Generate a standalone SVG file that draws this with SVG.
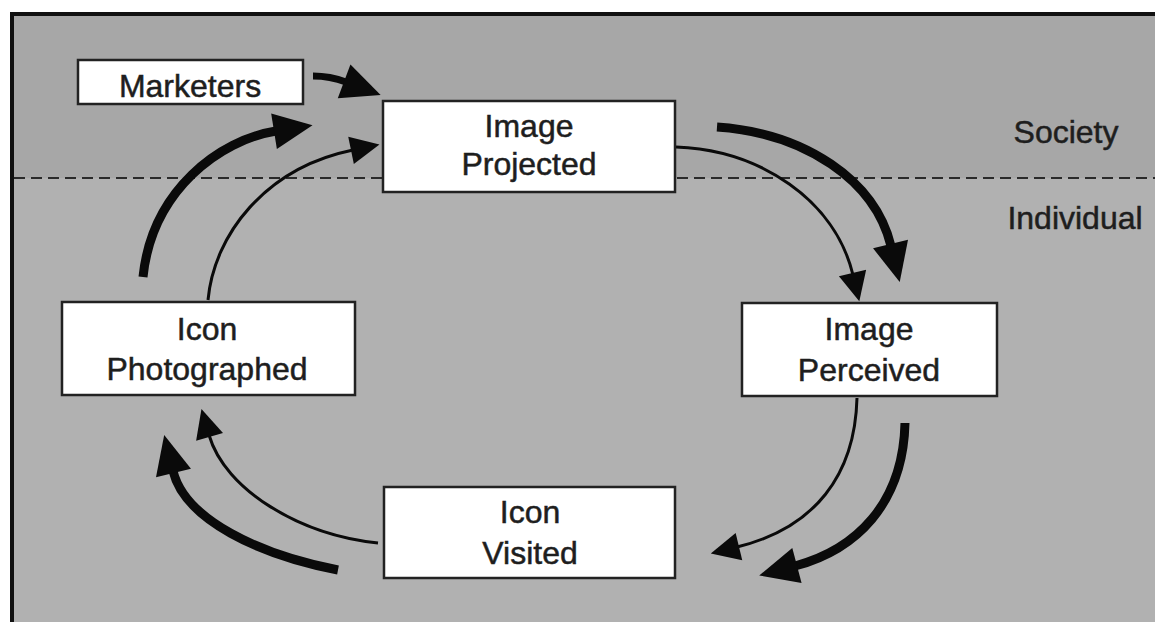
<svg xmlns="http://www.w3.org/2000/svg" width="1155" height="626" viewBox="0 0 1155 626">
  <style>
    .box { fill: #ffffff; stroke: #222222; stroke-width: 2.5; }
    .lbl { font-family: "Liberation Sans", Arial, sans-serif; font-size: 32px; fill: #1e1e1e; stroke: #1e1e1e; stroke-width: 0.5; text-anchor: middle; }
    .thick { fill: none; stroke: #0a0a0a; stroke-width: 9; }
    .mid { fill: none; stroke: #0a0a0a; stroke-width: 7; }
    .thin { fill: none; stroke: #0a0a0a; stroke-width: 3; }
  </style>
  <defs>
    <marker id="headBig" markerUnits="userSpaceOnUse" viewBox="0 -20 42 40" markerWidth="42" markerHeight="40" refX="2" refY="0" orient="auto" overflow="visible">
      <path d="M0,-18 L39,0 L0,18 z" fill="#0a0a0a"/>
    </marker>
    <marker id="headSmall" markerUnits="userSpaceOnUse" viewBox="0 -16 32 32" markerWidth="32" markerHeight="32" refX="2" refY="0" orient="auto" overflow="visible">
      <path d="M0,-14 L29,0 L0,14 z" fill="#0a0a0a"/>
    </marker>
  </defs>

  <g id="background">
    <rect x="0" y="0" width="1155" height="626" fill="#ffffff"/>
    <rect x="12" y="14" width="1150" height="164" fill="#a7a7a7"/>
    <rect x="12" y="178" width="1150" height="444" fill="#b1b1b1"/>
    <line x1="12" y1="14" x2="1155" y2="14" stroke="#111111" stroke-width="4"/>
    <line x1="12" y1="12" x2="12" y2="622" stroke="#111111" stroke-width="4"/>
    <line x1="14" y1="178" x2="1155" y2="178" stroke="#2a2a2a" stroke-width="2" stroke-dasharray="11,6"/>
    <text class="lbl" x="1066" y="143">Society</text>
    <text class="lbl" x="1075" y="229">Individual</text>
  </g>

  <g id="connectors">
    <path class="mid" d="M313,76 Q330,76 346,82" marker-end="url(#headBig)"/>
    <path class="thick" d="M143,277 C152,190 220,140 276,131" marker-end="url(#headBig)"/>
    <path class="thin" d="M208,300 C214,235 265,168 353,150" marker-end="url(#headSmall)"/>
    <path class="thin" d="M676,147 C760,150 835,200 853,275" marker-end="url(#headSmall)"/>
    <path class="thick" d="M717,127 C805,133 875,180 891,246" marker-end="url(#headBig)"/>
    <path class="thin" d="M857,398 C855,475 815,528 737,547" marker-end="url(#headSmall)"/>
    <path class="thick" d="M905,423 C903,505 855,550 795,566" marker-end="url(#headBig)"/>
    <path class="thin" d="M378,543 C300,535 225,490 209,435" marker-end="url(#headSmall)"/>
    <path class="thick" d="M338,570 C260,555 185,520 173,471" marker-end="url(#headBig)"/>
  </g>

  <g id="marketers">
    <rect class="box" x="78" y="60" width="225" height="44"/>
    <text class="lbl" x="190" y="97">Marketers</text>
  </g>

  <g id="image-projected">
    <rect class="box" x="383" y="101" width="292" height="91"/>
    <text class="lbl" x="529" y="137">Image</text>
    <text class="lbl" x="529" y="175">Projected</text>
  </g>

  <g id="image-perceived">
    <rect class="box" x="742" y="303" width="255" height="93"/>
    <text class="lbl" x="869" y="340">Image</text>
    <text class="lbl" x="869" y="381">Perceived</text>
  </g>

  <g id="icon-photographed">
    <rect class="box" x="62" y="302" width="293" height="93"/>
    <text class="lbl" x="207" y="340">Icon</text>
    <text class="lbl" x="207" y="380">Photographed</text>
  </g>

  <g id="icon-visited">
    <rect class="box" x="384" y="487" width="291" height="91"/>
    <text class="lbl" x="530" y="523">Icon</text>
    <text class="lbl" x="530" y="564">Visited</text>
  </g>
</svg>
